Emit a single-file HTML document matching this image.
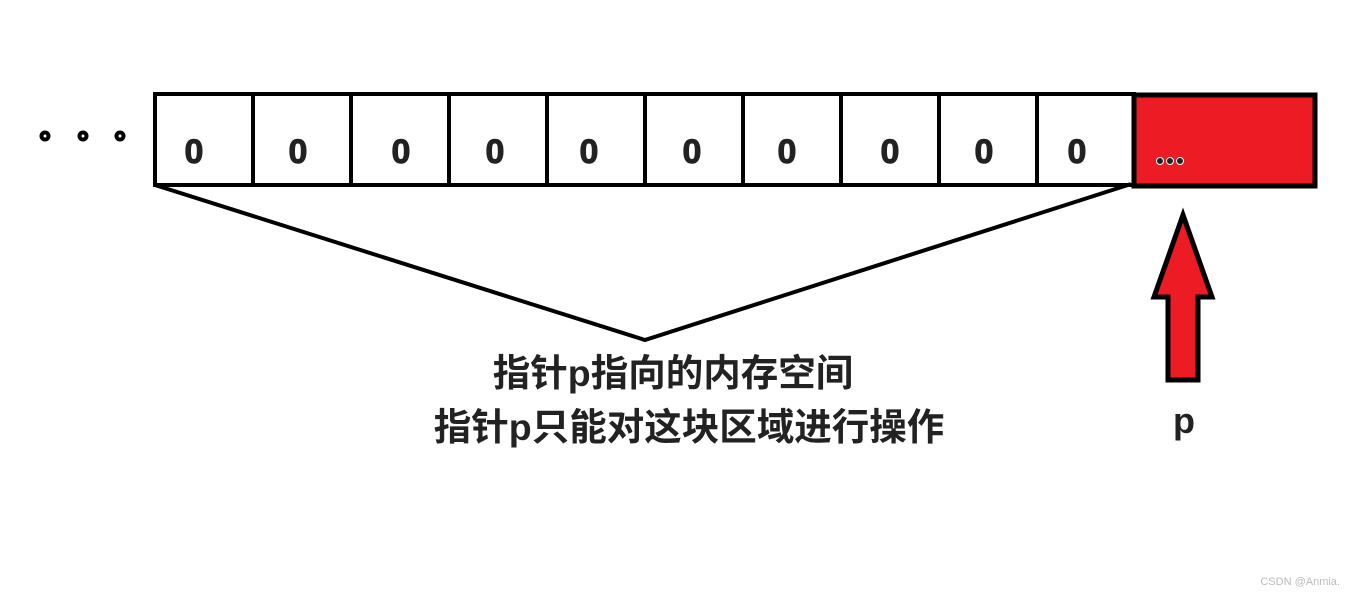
<!DOCTYPE html>
<html><head><meta charset="utf-8"><style>
body{margin:0;background:#fff;width:1354px;height:595px;overflow:hidden}
</style></head><body>
<svg width="1354" height="595" xmlns="http://www.w3.org/2000/svg">
<g fill="none" stroke="#000" stroke-width="4">
<circle cx="45" cy="136" r="3.5"/><circle cx="83" cy="136" r="3.5"/><circle cx="120" cy="136" r="3.5"/>
</g>
<rect x="1134" y="95" width="181" height="91" fill="#ed1c24" stroke="#000" stroke-width="5"/>
<g stroke="#000" stroke-width="4" fill="none">
<rect x="155" y="94" width="979" height="91"/>
<line x1="253" y1="94" x2="253" y2="185"/><line x1="351" y1="94" x2="351" y2="185"/>
<line x1="449" y1="94" x2="449" y2="185"/><line x1="547" y1="94" x2="547" y2="185"/>
<line x1="645" y1="94" x2="645" y2="185"/><line x1="743" y1="94" x2="743" y2="185"/>
<line x1="841" y1="94" x2="841" y2="185"/><line x1="939" y1="94" x2="939" y2="185"/>
<line x1="1037" y1="94" x2="1037" y2="185"/>
<polyline points="155,185 645,340 1131,184"/>
</g>
<g font-family="Liberation Sans, sans-serif" font-weight="bold" font-size="34" fill="#222" stroke="#222" stroke-width="1" text-anchor="middle">
<text x="194" y="163">0</text><text x="298" y="163">0</text><text x="401" y="163">0</text>
<text x="495" y="163">0</text><text x="589" y="163">0</text><text x="692" y="163">0</text>
<text x="787" y="163">0</text><text x="890" y="163">0</text><text x="984" y="163">0</text>
<text x="1077" y="163">0</text>
</g>
<g fill="#222" stroke="#fff" stroke-width="1"><circle cx="1160" cy="161" r="3.5"/><circle cx="1170" cy="161" r="3.5"/><circle cx="1180" cy="161" r="3.5"/></g>
<polygon points="1183,215 1212,297 1198,297 1198,380 1168,380 1168,297 1154,297" fill="#ed1c24" stroke="#000" stroke-width="5" stroke-linejoin="miter"/>
<g font-family="Liberation Sans, 'Noto Sans CJK SC', sans-serif" font-weight="bold" fill="#222">
<text x="673" y="386" font-size="37.5" text-anchor="middle">指针p指向的内存空间</text>
<text x="689" y="440" font-size="37.5" text-anchor="middle">指针p只能对这块区域进行操作</text>
<text x="1184" y="433" font-size="36" text-anchor="middle">p</text>
</g>
<text x="1340" y="585" font-family="Liberation Sans, sans-serif" font-size="11" fill="#bbb" text-anchor="end">CSDN @Anmia.</text>
</svg>
</body></html>
